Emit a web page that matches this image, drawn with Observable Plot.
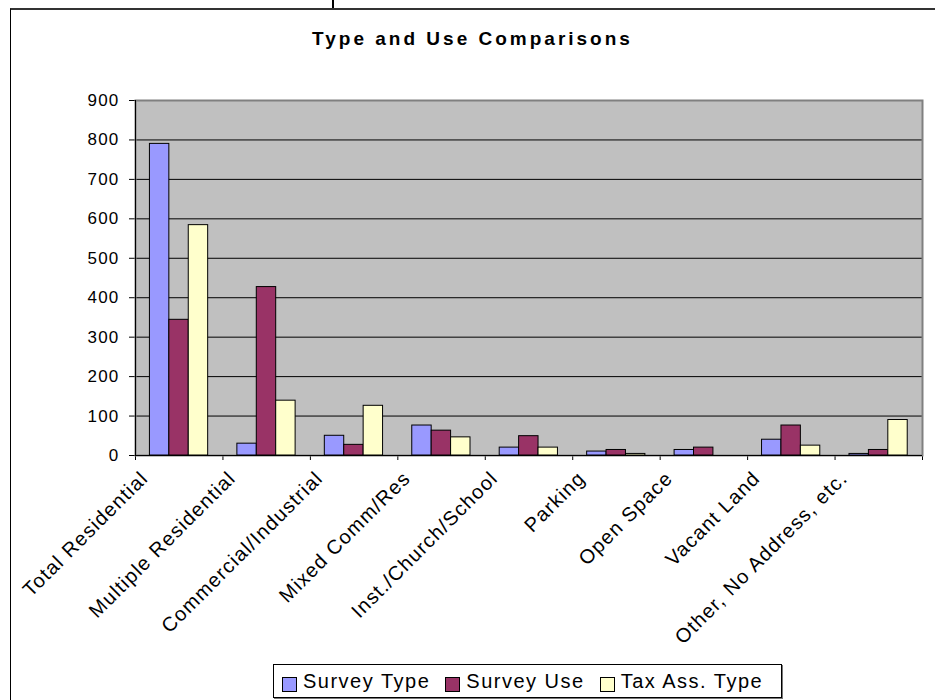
<!DOCTYPE html>
<html>
<head>
<meta charset="utf-8">
<script src="https://cdn.jsdelivr.net/npm/d3@7"></script>
<script src="https://cdn.jsdelivr.net/npm/@observablehq/plot@0.6"></script>
<style>
  html, body { margin: 0; padding: 0; background: #fff; overflow: hidden; }
  #page { position: relative; width: 935px; height: 700px; overflow: hidden; background: #fff;
          font-family: "Liberation Sans", Arial, sans-serif; color: #000; }
  #outline { position: absolute; left: 10px; top: 8px; width: 960px; height: 720px;
             border-top: 2px solid #333; border-left: 1px solid #000; pointer-events: none; }
  #stub { position: absolute; left: 332px; top: 0; width: 2px; height: 9px; background: #000; }
  #title { position: absolute; left: 10px; width: 925px; top: 29px; line-height: 19px;
           text-align: center; font-weight: bold; font-size: 19px; letter-spacing: 3px; }
  #chart { position: absolute; left: 0; top: 60px; }
  #legend { position: absolute; left: 273px; top: 664px; width: 509px; height: 34px;
            box-sizing: border-box; border: 1px solid #000; box-shadow: 1px 1px 0 #777;
            display: flex; align-items: center; padding-left: 8px; background: #fff;
            font-size: 20px; line-height: 20px; letter-spacing: 1.5px; }
  #legend .item { display: flex; align-items: center; margin-right: 15px; }
  #legend .sw { width: 15px; height: 15px; box-sizing: border-box; border: 1px solid #000;
                margin-right: 6px; position: relative; top: 3px; }
</style>
</head>
<body>
<div id="page">
  <div id="stub"></div>
  <div id="title">Type and Use Comparisons</div>
  <div id="chart"></div>
  <div id="legend"></div>
  <div id="outline"></div>
</div>
<script>
// Land-use categories along the x axis
const categories = [
  "Total Residential",
  "Multiple Residential",
  "Commercial/Industrial",
  "Mixed Comm/Res",
  "Inst./Church/School",
  "Parking",
  "Open Space",
  "Vacant Land",
  "Other, No Address, etc."
];

// Series names and their counts per category
const seriesNames = ["Survey Type", "Survey Use", "Tax Ass. Type"];
const surveyType  = [790, 30, 50, 76, 20, 10, 14, 40, 4];
const surveyUse   = [344, 427, 27, 63, 49, 14, 20, 76, 14];
const taxAssType  = [584, 139, 126, 46, 20, 4, 0, 25, 90];
const seriesColors = ["#9999FF", "#993366", "#FFFFCC"];

// Value axis ticks
const yTicks = [0, 100, 200, 300, 400, 500, 600, 700, 800, 900];

const seriesValues = [surveyType, surveyUse, taxAssType];

// One row per bar; each category occupies one unit on x
const rows = categories.flatMap((category, i) =>
  seriesValues.map((values, j) => ({
    category, series: seriesNames[j], index: i, slot: j, value: values[i]
  }))
).filter(d => d.value > 0);

const groupPad = 0.165;  // gap before the first bar of a category
const barWidth = 0.222;  // width of one bar, in category units

const chart = Plot.plot({
  width: 935,
  height: 600,
  marginLeft: 135,
  marginRight: 13,
  marginTop: 40,
  marginBottom: 205,
  style: {
    fontFamily: "'Liberation Sans', Arial, sans-serif",
    fontSize: "17px",
    letterSpacing: "1.2px",
    background: "none",
    overflow: "visible",
    color: "#000"
  },
  x: {
    type: "linear",
    domain: [0, categories.length],
    ticks: d3.range(0, categories.length + 1),
    tickFormat: () => "",
    tickSize: 5,
    label: null
  },
  y: {
    domain: [0, 900],
    ticks: yTicks,
    tickSize: 6,
    tickPadding: 10,
    label: null
  },
  color: { domain: seriesNames, range: seriesColors },
  marks: [
    Plot.frame({ fill: "#C0C0C0" }),
    Plot.ruleY(yTicks.filter(v => v > 0 && v < 900), { stroke: "#000", strokeWidth: 1 }),
    Plot.frame({ stroke: "#808080", strokeWidth: 2 }),
    Plot.rect(rows, {
      x1: d => d.index + groupPad + d.slot * barWidth,
      x2: d => d.index + groupPad + (d.slot + 1) * barWidth,
      y1: 0,
      y2: "value",
      fill: "series",
      stroke: "#000",
      strokeWidth: 1
    }),
    Plot.ruleX([0], { stroke: "#000" }),
    Plot.ruleY([0], { stroke: "#000" }),
    Plot.text(categories, {
      x: (d, i) => i + 0.5,
      text: d => d,
      frameAnchor: "bottom",
      rotate: -45,
      textAnchor: "end",
      dx: -30,
      dy: 24,
      fontSize: 20,
      fill: "#000"
    })
  ]
});
document.getElementById("chart").appendChild(chart);

// Legend: a bordered box of swatches below the chart
const legend = d3.select("#legend");
seriesNames.forEach((name, j) => {
  const item = legend.append("div").attr("class", "item");
  item.append("div").attr("class", "sw").style("background", seriesColors[j]);
  item.append("span").text(name);
});
</script>
</body>
</html>
